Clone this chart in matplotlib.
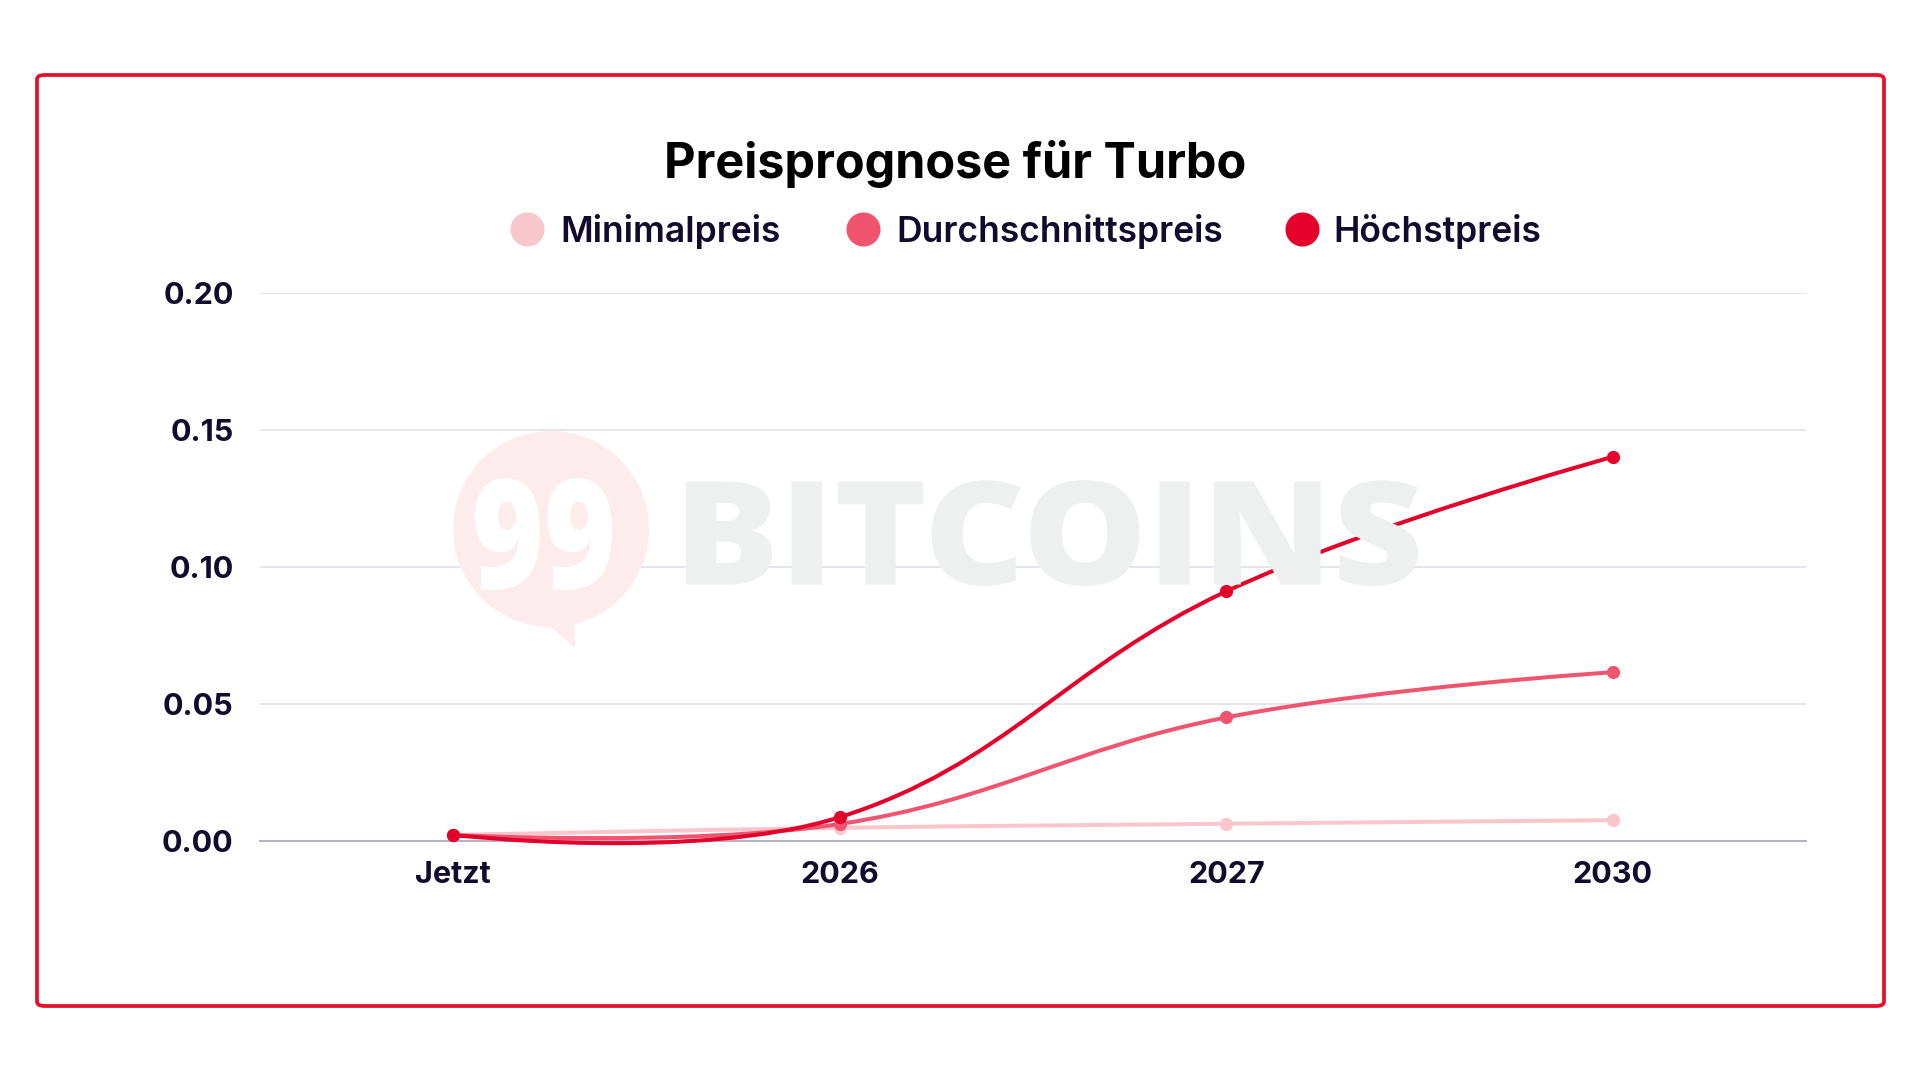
import numpy as np
import matplotlib
matplotlib.use('Agg')
import matplotlib.pyplot as plt
from matplotlib.path import Path
from matplotlib.patches import PathPatch, FancyBboxPatch, Circle, Polygon
from matplotlib.lines import Line2D
from matplotlib.textpath import TextPath
from matplotlib.font_manager import FontProperties
from matplotlib.transforms import Affine2D

# data
labels = ['Jetzt', '2026', '2027', '2030']
minimal = [0.0022, 0.0048, 0.0063, 0.0076]
durchschnitt = [0.0022, 0.0062, 0.0451, 0.0616]
hoechst = [0.0022, 0.0087, 0.0911, 0.1402]
series_names = ['Minimalpreis', 'Durchschnittspreis', 'Höchstpreis']
colors = ['#f9c6cd', '#f0546f', '#e4002b']

text_color = '#120b2e'
W, H = 1920, 1080


def smooth_path(xs, ys, sx, sy, tension=0.4):
    # chart.js style bezier, control points computed in pixel space
    px = np.array(xs, float) * sx
    py = np.array(ys, float) * sy
    n = len(px)
    cp_prev = [(px[i], py[i]) for i in range(n)]
    cp_next = [(px[i], py[i]) for i in range(n)]
    for i in range(1, n - 1):
        d01 = np.hypot(px[i] - px[i - 1], py[i] - py[i - 1])
        d12 = np.hypot(px[i + 1] - px[i], py[i + 1] - py[i])
        s01 = d01 / (d01 + d12)
        s12 = d12 / (d01 + d12)
        dx = px[i + 1] - px[i - 1]
        dy = py[i + 1] - py[i - 1]
        cp_prev[i] = (px[i] - tension * s01 * dx, py[i] - tension * s01 * dy)
        cp_next[i] = (px[i] + tension * s12 * dx, py[i] + tension * s12 * dy)
    verts = [(px[0], py[0])]
    codes = [Path.MOVETO]
    for i in range(n - 1):
        verts += [cp_next[i], cp_prev[i + 1], (px[i + 1], py[i + 1])]
        codes += [Path.CURVE4] * 3
    verts = [(vx / sx, vy / sy) for vx, vy in verts]
    return Path(verts, codes)


def text_in_box(fig, s, x0, x1, ytop, ybot, color, prop):
    # text squeezed into a pixel box (coords from the top left)
    tp = TextPath((0, 0), s, size=100, prop=prop)
    ext = tp.get_extents()
    tr = (Affine2D().translate(-ext.x0, -ext.y0)
          .scale((x1 - x0) / ext.width, (ybot - ytop) / ext.height)
          .translate(x0, H - ybot))
    patch = PathPatch(tr.transform_path(tp), transform=None, facecolor=color,
                      edgecolor='none', zorder=1)
    fig.patches.append(patch)


fig = plt.figure(figsize=(19.2, 10.8), dpi=100)
fig.patch.set_facecolor('white')

# red frame
frame = FancyBboxPatch((37 / W, 1 - 1006 / H), (1884 - 37) / W, (1006 - 75) / H,
                       boxstyle='round,pad=0,rounding_size=0.004',
                       transform=fig.transFigure, facecolor='none',
                       edgecolor='#e4112c', linewidth=2.7, zorder=0)
fig.patches.append(frame)

ax_l, ax_r, ax_t, ax_b = 260, 1806, 293, 841
ax = fig.add_axes([ax_l / W, 1 - ax_b / H, (ax_r - ax_l) / W, (ax_b - ax_t) / H])
ax.set_facecolor('none')

# watermark (99 BITCOINS)
circ = Circle((551, H - 529), 98, transform=None, facecolor='#fdeced',
              edgecolor='none', zorder=0)
fig.patches.append(circ)
tail = Polygon([(520, H - 600), (575, H - 648), (575, H - 590)], closed=True,
               transform=None, facecolor='#fdeced', edgecolor='none', zorder=0)
fig.patches.append(tail)
wm_font = FontProperties(family='Open Sans', weight='heavy')
text_in_box(fig, '99', 475, 612, 478, 590, 'white', wm_font)
text_in_box(fig, 'BITCOINS', 686, 1418, 480, 586, '#eeefef', wm_font)

x = np.arange(len(labels))
ax.set_xlim(-0.5, 3.5)
ax.set_ylim(0, 0.2)

sx = (ax_r - ax_l) / 4.0
sy = (ax_b - ax_t) / 0.2

for vals, col, z in zip([minimal, durchschnitt, hoechst], colors, [3, 4, 5]):
    p = smooth_path(x, vals, sx, sy)
    ax.add_patch(PathPatch(p, facecolor='none', edgecolor=col, linewidth=2.9,
                           zorder=z, capstyle='round', clip_on=False))
    ax.plot(x, vals, 'o', color=col, markersize=8.5, zorder=z + 0.5, clip_on=False)

ax.set_yticks([0, 0.05, 0.10, 0.15, 0.20])
ax.set_yticklabels(['0.00', '0.05', '0.10', '0.15', '0.20'])
ax.set_xticks(x)
ax.set_xticklabels(labels)
ax.grid(axis='y', color='#e1e1e6', linewidth=1.2, zorder=1)
ax.set_axisbelow(True)
for s in ['top', 'right', 'left']:
    ax.spines[s].set_visible(False)
ax.spines['bottom'].set_color('#b4b3c2')
ax.spines['bottom'].set_linewidth(1.5)
ax.tick_params(axis='both', length=0, labelsize=22, labelcolor=text_color)
ax.tick_params(axis='y', pad=19)
ax.tick_params(axis='x', pad=14.5)
for t in ax.get_xticklabels() + ax.get_yticklabels():
    t.set_fontweight('bold')
    t.set_family('Inter')

fig.text(955 / W, 1 - 164.5 / H, 'Preisprognose für Turbo', fontsize=35,
         fontweight='bold', family='Inter', color='black', ha='center', va='center')

# legend drawn by hand
leg_marker_x = [527, 863, 1302]
leg_text_x = [560, 896, 1333]
leg_y = 229
for name, col, mx, tx in zip(series_names, colors, leg_marker_x, leg_text_x):
    fig.add_artist(Line2D([mx / W], [1 - leg_y / H], marker='o', linestyle='none',
                          markersize=24.5, markerfacecolor=col,
                          markeredgecolor='none', transform=fig.transFigure))
    fig.text(tx / W, 1 - (leg_y - 1) / H, name, fontsize=25.5, fontweight='semibold',
             family='Inter', color=text_color, ha='left', va='center_baseline')

fig.savefig('out.png', dpi=100)
